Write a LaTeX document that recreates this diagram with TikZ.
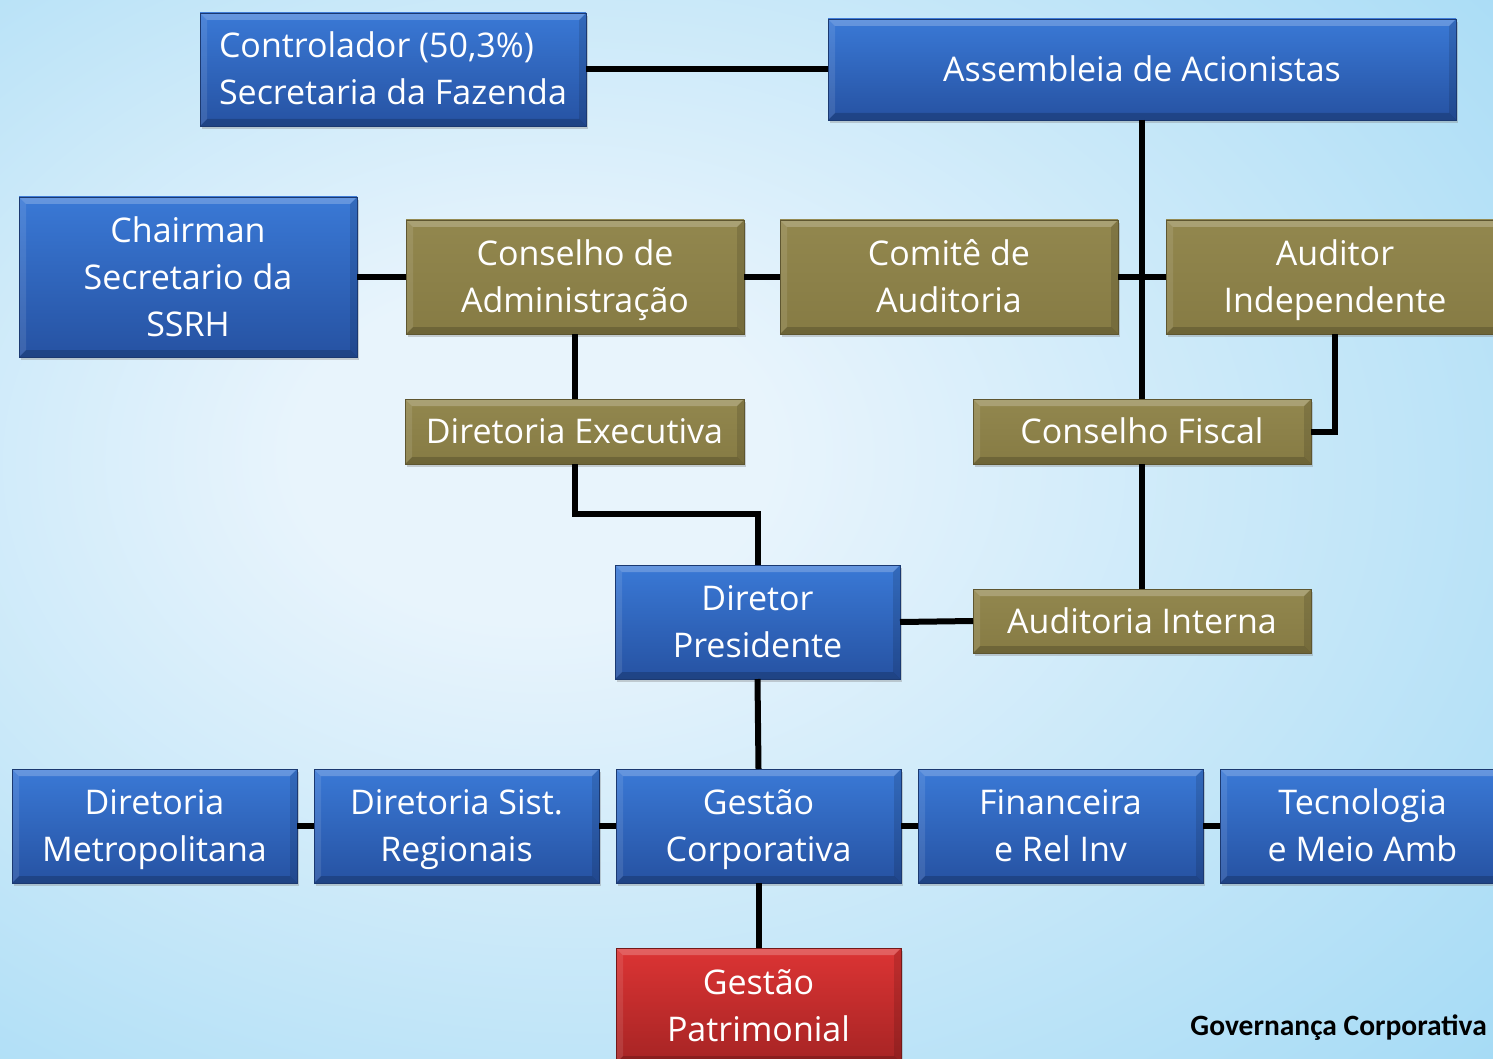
\documentclass[tikz,border=0pt]{standalone}
\usepackage{fontspec}
\setmainfont{Open Sans}
\newfontfamily\labfont{Carlito}
\usetikzlibrary{shadows}

\definecolor{bgin}{RGB}{232,244,252}
\definecolor{bgout}{RGB}{134,207,242}
\definecolor{blueT}{RGB}{58,121,214}
\definecolor{blueB}{RGB}{38,82,162}
\definecolor{oliveT}{RGB}{146,135,78}
\definecolor{oliveB}{RGB}{134,123,68}
\definecolor{redT}{RGB}{220,52,52}
\definecolor{redB}{RGB}{166,36,36}

\newcommand\bs{\rule[-8pt]{0pt}{40pt}}

\pgfdeclareradialshading{bgshade}{\pgfpoint{-8bp}{4bp}}{color(0bp)=(bgin); color(8bp)=(bgin); color(55bp)=(bgout); color(80bp)=(bgout)}

\tikzset{
  box/.style={rectangle, inner sep=0pt, outer sep=0pt, text=white, align=center,
    font=\fontsize{34}{47}\selectfont,
    draw=#1B!70!black, line width=0.6pt, top color=#1T, bottom color=#1B,
    drop shadow={opacity=0.35, shadow xshift=2pt, shadow yshift=-3pt},
    path picture={
      \fill[white,opacity=0.22] (path picture bounding box.north west) -- (path picture bounding box.north east)
        -- ([xshift=-7pt,yshift=-7pt]path picture bounding box.north east) -- ([xshift=7pt,yshift=-7pt]path picture bounding box.north west) -- cycle;
      \fill[black,opacity=0.18] (path picture bounding box.south west) -- (path picture bounding box.south east)
        -- ([xshift=-7pt,yshift=7pt]path picture bounding box.south east) -- ([xshift=7pt,yshift=7pt]path picture bounding box.south west) -- cycle;
      \fill[white,opacity=0.10] (path picture bounding box.north west) -- (path picture bounding box.south west)
        -- ([xshift=7pt,yshift=7pt]path picture bounding box.south west) -- ([xshift=7pt,yshift=-7pt]path picture bounding box.north west) -- cycle;
      \fill[black,opacity=0.12] (path picture bounding box.north east) -- (path picture bounding box.south east)
        -- ([xshift=-7pt,yshift=7pt]path picture bounding box.south east) -- ([xshift=-7pt,yshift=-7pt]path picture bounding box.north east) -- cycle;
    }},
  bluebox/.style={box=blue},
  olivebox/.style={box=olive},
  redbox/.style={box=red},
  wire/.style={line width=6pt, draw=black}
}

\begin{document}
\begin{tikzpicture}[x=1pt,y=-1pt]
\useasboundingbox (0,0) rectangle (1493,1059);
\clip (0,0) rectangle (1493,1059);
\shade[shading=bgshade] (0,0) rectangle (1493,1059);

% top
\node[bluebox, align=left, minimum width=386pt, minimum height=113pt] (ctrl) at (393,69.5) {\bs Controlador (50,3\%)\\\bs Secretaria da Fazenda};
\node[bluebox, minimum width=628pt, minimum height=101pt] (asm) at (1142,69.5) {\bs Assembleia de Acionistas};

% second row
\node[bluebox, minimum width=338pt, minimum height=160pt] (chair) at (188,277) {\bs Chairman\\\bs Secretario da\\\bs SSRH};
\node[olivebox, minimum width=338pt, minimum height=114pt] (cadm) at (575,277) {\bs Conselho de\\\bs Administração};
\node[olivebox, minimum width=338pt, minimum height=114pt] (comite) at (949,277) {\bs Comitê de\\\bs Auditoria};
\node[olivebox, minimum width=338pt, minimum height=114pt] (audind) at (1335,277) {\bs Auditor\\\bs Independente};

% third row
\node[olivebox, minimum width=339pt, minimum height=65pt] (dexec) at (574.5,431.5) {\bs Diretoria Executiva};
\node[olivebox, minimum width=338pt, minimum height=65pt] (cfisc) at (1142,431.5) {\bs Conselho Fiscal};

% president
\node[bluebox, minimum width=285pt, minimum height=114pt] (dpres) at (757.5,622) {\bs Diretor\\\bs Presidente};
\node[olivebox, minimum width=338pt, minimum height=64pt] (audint) at (1142,621) {\bs Auditoria Interna};

% bottom row
\node[bluebox, minimum width=285pt, minimum height=114pt] (dmet) at (154.5,826) {\bs Diretoria\\\bs Metropolitana};
\node[bluebox, minimum width=285pt, minimum height=114pt] (dsist) at (456.5,826) {\bs Diretoria Sist.\\\bs Regionais};
\node[bluebox, minimum width=285pt, minimum height=114pt] (gcorp) at (758.5,826) {\bs Gestão\\\bs Corporativa};
\node[bluebox, minimum width=285pt, minimum height=114pt] (fin) at (1060.5,826) {\bs Financeira\\\bs e Rel Inv};
\node[bluebox, minimum width=285pt, minimum height=114pt] (tec) at (1362.5,826) {\bs Tecnologia\\\bs e Meio Amb};

\node[redbox, minimum width=285pt, minimum height=115pt] (gpat) at (758.5,1005.5) {\bs Gestão\\\bs Patrimonial};

\node[anchor=base east, inner sep=0pt, font=\labfont\bfseries\fontsize{29.5}{34}\selectfont] (gov) at (1487,1035) {Governança Corporativa};

% connectors
\coordinate (j1) at (575,514);
\draw[wire] (ctrl.east) -- (asm.west |- ctrl.east);
\draw[wire] (asm.south) -- (cfisc.north);
\draw[wire] (chair.east) -- (cadm.west);
\draw[wire] (cadm.east) -- (comite.west);
\draw[wire] (comite.east) -- (audind.west);
\draw[wire] (cadm.south) -- (cadm.south |- dexec.north);
\draw[wire] (dexec.south -| j1) -- (j1) -| (dpres.north);
\draw[wire] (audind.south) |- (cfisc.east);
\draw[wire] (cfisc.south) -- (audint.north);
\draw[wire] (dpres.east) -- (audint.west);
\draw[wire] (dpres.south) -- (gcorp.north);
\draw[wire] (dmet.east) -- (dsist.west);
\draw[wire] (dsist.east) -- (gcorp.west);
\draw[wire] (gcorp.east) -- (fin.west);
\draw[wire] (fin.east) -- (tec.west);
\draw[wire] (gcorp.south) -- (gpat.north);
\end{tikzpicture}
\end{document}
